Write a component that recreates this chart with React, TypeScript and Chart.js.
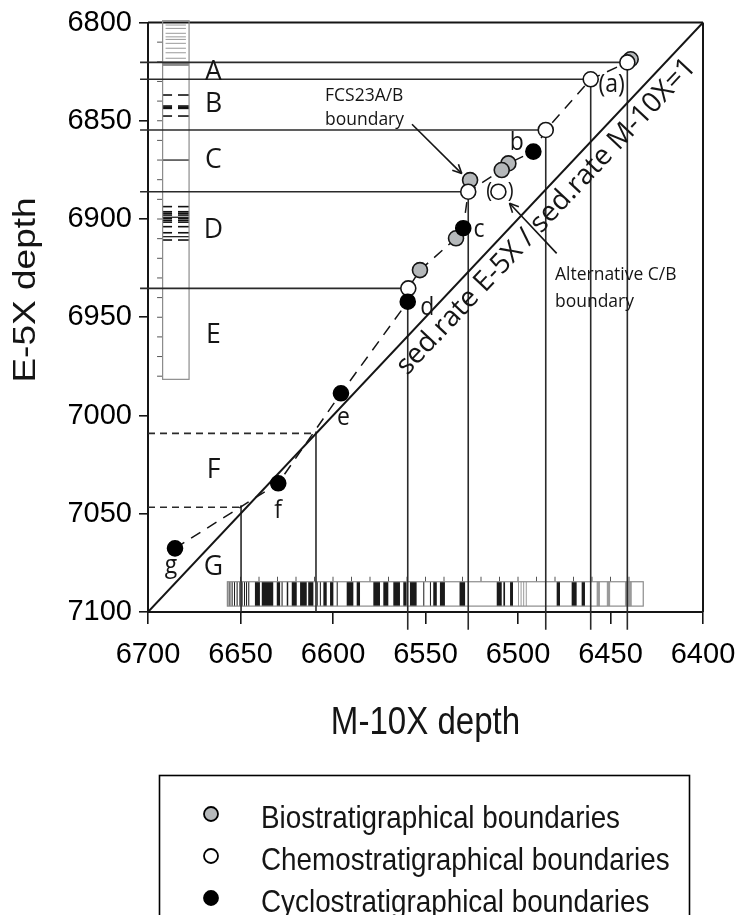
import React, { useEffect, useRef } from 'react';
import { Chart, registerables } from 'chart.js';

Chart.register(...registerables);

// ---------- axis ranges / ticks ----------
const M10X_MIN = 6400;
const M10X_MAX = 6700;
const E5X_MIN = 6800;
const E5X_MAX = 7100;
const xTickValues = [6700, 6650, 6600, 6550, 6500, 6450, 6400];
const yTickValues = [6800, 6850, 6900, 6950, 7000, 7050, 7100];

// ---------- boundary points (M-10X depth, E-5X depth) ----------
const bioM10X = [6439.1, 6505.2, 6508.8, 6525.9, 6533.5, 6553.0];
const bioE5X = [6818.7, 6871.7, 6875.1, 6880.2, 6909.8, 6926.0];

const chemoM10X = [6440.9, 6460.7, 6485.0, 6526.9, 6510.6, 6559.3];
const chemoE5X = [6820.3, 6828.9, 6854.7, 6886.1, 6886.1, 6935.3];

const cycloM10X = [6491.7, 6529.6, 6559.6, 6595.7, 6629.6, 6685.4];
const cycloE5X = [6865.7, 6904.7, 6942.1, 6988.7, 7034.5, 7067.6];

// dashed correlation line
const corrM10X = [6685.4, 6629.6, 6595.7, 6559.6, 6559.3, 6553.0, 6533.5, 6529.6, 6526.9, 6508.8, 6505.2, 6491.7, 6485.0, 6460.7, 6440.9];
const corrE5X = [7067.6, 7034.5, 6988.7, 6942.1, 6935.3, 6926.0, 6909.8, 6904.7, 6886.1, 6875.1, 6871.7, 6865.7, 6854.7, 6828.9, 6820.3];

// tie lines
const hTieE5X = [6820.3, 6828.9, 6854.7, 6886.1, 6935.3];
const hTieM10X = [6440.9, 6460.7, 6485.0, 6526.9, 6559.3];
const vTieM10X = [6440.9, 6460.7, 6485.0, 6526.9, 6559.6];
const vTieE5X = [6820.3, 6828.9, 6854.7, 6886.1, 6942.1];
const zoneFGBoundE5X = [7009.1, 7046.7];
const zoneFGBoundM10X = [6609.2, 6649.7];

// zone letters
const zoneLetters = ['A', 'B', 'C', 'D', 'E', 'F', 'G'];
const zoneBaseE5X = [6829.3, 6845.4, 6874.2, 6909.8, 6963.3, 7032.0, 7081.2];
const zoneM10X = 6664.6;

// point letters
const pointLetters = ['(a)', 'b', 'c', 'd', 'e', 'f', 'g'];
const pointLetterM10X = [6449.4, 6500.7, 6521.1, 6549.0, 6594.4, 6629.6, 6687.6];
const pointLetterE5X = [6835.2, 6864.9, 6909.0, 6948.9, 7004.8, 7052.3, 7080.3];

// E-5X core log column
const colM10X = [6692.1, 6677.8];
const colE5X = [6799.1, 6981.6];
const colLeftSeg = [6691.9, 6687.0];
const colRightSeg = [6683.8, 6677.8];
const colGreyLines = [6801.3, 6803.0, 6805.5, 6807.3, 6808.6, 6810.6, 6813.1, 6815.4, 6818.2];
const colGreyBand = [6819.9, 6822.1];
const colDashes = [6836.9, 6842.5, 6843.1, 6843.7, 6847.6, 6893.7, 6896.3, 6897.1, 6898.0, 6899.6, 6900.6, 6901.6, 6903.9, 6907.0, 6910.7];
const colFullLines = [6870.0, 6899.1, 6909.0];
const colTicks = [6810, 6820, 6830, 6840, 6850, 6860, 6870, 6880, 6890, 6900, 6910, 6920, 6930, 6940, 6950, 6960, 6970, 6980];

// M-10X core log bar
const barM10X = [6657.1, 6432.3];
const barE5X = [7084.6, 7097.0];
const barBlack = [
  [6657.1, 6656.7], [6656.0, 6655.6], [6654.8, 6654.4], [6653.5, 6653.1], [6652.1, 6651.7],
  [6650.6, 6650.2], [6649.4, 6649.0], [6648.1, 6647.7], [6647.0, 6646.6], [6645.8, 6645.4],
  [6642.2, 6639.5], [6638.5, 6632.3], [6630.4, 6628.6], [6627.8, 6627.4], [6625.0, 6624.2],
  [6622.3, 6619.6], [6617.8, 6614.2], [6613.4, 6610.6], [6608.8, 6608.4], [6607.1, 6606.7],
  [6605.2, 6603.4], [6601.6, 6599.8], [6598.0, 6597.6], [6592.6, 6589.0], [6587.2, 6585.4],
  [6578.2, 6574.6], [6572.8, 6570.1], [6567.4, 6563.8], [6562.0, 6560.2], [6558.4, 6554.8],
  [6551.2, 6550.8], [6547.6, 6547.2], [6545.8, 6543.9], [6542.2, 6539.5], [6531.6, 6528.6],
  [6511.5, 6508.8], [6507.9, 6507.0], [6504.3, 6502.7], [6479.1, 6477.3], [6471.0, 6468.3],
  [6465.6, 6463.8],
];
const barGrey = [
  [6500.0, 6499.5], [6498.6, 6498.1], [6497.2, 6496.7], [6495.8, 6495.3],
  [6457.5, 6455.7], [6452.0, 6450.2], [6442.2, 6438.5],
];
const barTicks = [6650, 6640, 6630, 6620, 6610, 6600, 6590, 6580, 6570, 6560, 6550, 6540, 6530, 6520, 6510, 6500, 6490, 6480, 6470, 6460, 6450, 6440];

// annotations
const fcsNote = ['FCS23A/B', 'boundary'];
const fcsNoteM10X = 6604.3;
const fcsNoteE5X = [6839.8, 6852.3];
const fcsArrow = [[6557.3, 6851.8], [6530.4, 6876.9]];
const altNote = ['Alternative C/B', 'boundary'];
const altNoteM10X = 6480.0;
const altNoteE5X = [6931.0, 6944.6];
const altArrow = [[6479.1, 6917.5], [6504.6, 6892.0]];
const parenM10X = [6515.6, 6503.9];
const parenE5X = 6886.1;
const ratioText = 'sed.rate E-5X / sed.rate M-10X=1';

const legendLabels = ['Biostratigraphical boundaries', 'Chemostratigraphical boundaries', 'Cyclostratigraphical boundaries'];
const legendFills = ['#b5b8ba', '#ffffff', '#000000'];

const AX_FONT = "'Liberation Sans', Arial, Helvetica, sans-serif";
const NOTE_FONT = "'Open Sans', 'Noto Sans', sans-serif";
const INK = '#151515';

function seg(ctx: CanvasRenderingContext2D, x1: number, y1: number, x2: number, y2: number) {
  ctx.beginPath();
  ctx.moveTo(x1, y1);
  ctx.lineTo(x2, y2);
  ctx.stroke();
}

function txt(ctx: CanvasRenderingContext2D, s: string, x: number, y: number, font: string,
  align: CanvasTextAlign = 'center', baseline: CanvasTextBaseline = 'alphabetic', sx = 1) {
  ctx.save();
  ctx.translate(x, y);
  ctx.scale(sx, 1);
  ctx.font = font;
  ctx.textAlign = align;
  ctx.textBaseline = baseline;
  ctx.fillStyle = INK;
  ctx.fillText(s, 0, 0);
  ctx.restore();
}

function arrow(ctx: CanvasRenderingContext2D, x1: number, y1: number, x2: number, y2: number) {
  seg(ctx, x1, y1, x2, y2);
  const a = Math.atan2(y2 - y1, x2 - x1);
  const L = 10;
  const w = 0.45;
  seg(ctx, x2, y2, x2 - L * Math.cos(a - w), y2 - L * Math.sin(a - w));
  seg(ctx, x2, y2, x2 - L * Math.cos(a + w), y2 - L * Math.sin(a + w));
}

const decorPlugin = {
  id: 'decor',
  beforeDatasetsDraw(chart: any) {
    const ctx: CanvasRenderingContext2D = chart.ctx;
    const X = (v: number) => chart.scales.x.getPixelForValue(v);
    const Y = (v: number) => chart.scales.y.getPixelForValue(v);
    ctx.save();

    // frame (top and right)
    ctx.strokeStyle = INK;
    ctx.lineWidth = 2;
    seg(ctx, X(M10X_MAX), Y(E5X_MIN), X(M10X_MIN), Y(E5X_MIN));
    seg(ctx, X(M10X_MIN), Y(E5X_MIN), X(M10X_MIN), Y(E5X_MAX));

    // E-5X log column
    ctx.strokeStyle = '#9a9a9a';
    ctx.lineWidth = 1;
    for (const g of colGreyLines) seg(ctx, X(6690.5), Y(g), X(6679.5), Y(g));
    ctx.fillStyle = '#8a8a8a';
    ctx.fillRect(X(colM10X[0]), Y(colGreyBand[0]), X(colM10X[1]) - X(colM10X[0]), Y(colGreyBand[1]) - Y(colGreyBand[0]));
    ctx.strokeStyle = '#111';
    ctx.lineWidth = 1.6;
    for (const d of colDashes) {
      seg(ctx, X(colLeftSeg[0]), Y(d), X(colLeftSeg[1]), Y(d));
      seg(ctx, X(colRightSeg[0]), Y(d), X(colRightSeg[1]), Y(d));
    }
    ctx.lineWidth = 1.2;
    for (const d of colFullLines) seg(ctx, X(colM10X[0]), Y(d), X(colM10X[1]), Y(d));
    ctx.strokeStyle = '#555';
    ctx.lineWidth = 1;
    for (const t of colTicks) seg(ctx, X(6695.1), Y(t), X(6692.4), Y(t));
    ctx.strokeStyle = '#8c8c8c';
    ctx.lineWidth = 1.2;
    ctx.strokeRect(X(colM10X[0]), Y(colE5X[0]), X(colM10X[1]) - X(colM10X[0]), Y(colE5X[1]) - Y(colE5X[0]));

    // M-10X log bar
    const by0 = Y(barE5X[0]);
    const by1 = Y(barE5X[1]);
    ctx.fillStyle = '#1a1a1a';
    for (const [a, b] of barBlack) {
      const x0 = X(a);
      const w = Math.max(1, X(b) - x0);
      ctx.fillRect(x0, by0, w, by1 - by0);
    }
    ctx.fillStyle = '#9a9a9a';
    for (const [a, b] of barGrey) {
      const x0 = X(a);
      const w = Math.max(1, X(b) - x0);
      ctx.fillRect(x0, by0, w, by1 - by0);
    }
    ctx.strokeStyle = '#555';
    ctx.lineWidth = 1;
    for (const t of barTicks) seg(ctx, X(t), by0 - 5, X(t), by0);
    ctx.strokeStyle = '#8c8c8c';
    ctx.lineWidth = 1.2;
    ctx.strokeRect(X(barM10X[0]), by0, X(barM10X[1]) - X(barM10X[0]), by1 - by0);

    // horizontal tie lines
    ctx.strokeStyle = '#2a2a2a';
    ctx.lineWidth = 1.6;
    hTieE5X.forEach((e, i) => seg(ctx, X(6704.3), Y(e), X(hTieM10X[i]), Y(e)));
    // vertical tie lines
    vTieM10X.forEach((m, i) => seg(ctx, X(m), Y(vTieE5X[i]), X(m), Y(7109)));
    // F / G zone boundaries
    zoneFGBoundE5X.forEach((e, i) => {
      ctx.setLineDash([7, 5]);
      seg(ctx, X(M10X_MAX), Y(e), X(zoneFGBoundM10X[i]), Y(e));
      ctx.setLineDash([]);
      seg(ctx, X(zoneFGBoundM10X[i]), Y(e) - 2, X(zoneFGBoundM10X[i]), Y(E5X_MAX));
    });
    ctx.restore();
  },
  afterDatasetsDraw(chart: any) {
    const ctx: CanvasRenderingContext2D = chart.ctx;
    const X = (v: number) => chart.scales.x.getPixelForValue(v);
    const Y = (v: number) => chart.scales.y.getPixelForValue(v);
    ctx.save();

    // zone letters
    zoneLetters.forEach((s, i) => txt(ctx, s, X(zoneM10X), Y(zoneBaseE5X[i]), `28px ${NOTE_FONT}`, 'center', 'alphabetic', 0.95));
    // point letters
    pointLetters.forEach((s, i) => txt(ctx, s, X(pointLetterM10X[i]), Y(pointLetterE5X[i]), `25px ${NOTE_FONT}`, 'center', 'alphabetic', 0.92));
    // parentheses around alternative C/B point
    txt(ctx, '(', X(parenM10X[0]), Y(parenE5X), `22px ${NOTE_FONT}`, 'center', 'middle', 0.9);
    txt(ctx, ')', X(parenM10X[1]), Y(parenE5X), `22px ${NOTE_FONT}`, 'center', 'middle', 0.9);

    // notes
    fcsNote.forEach((s, i) => txt(ctx, s, X(fcsNoteM10X), Y(fcsNoteE5X[i]), `19px ${NOTE_FONT}`, 'left', 'alphabetic', 0.92));
    altNote.forEach((s, i) => txt(ctx, s, X(altNoteM10X), Y(altNoteE5X[i]), `19px ${NOTE_FONT}`, 'left', 'alphabetic', 0.92));
    ctx.strokeStyle = INK;
    ctx.lineWidth = 1.6;
    arrow(ctx, X(fcsArrow[0][0]), Y(fcsArrow[0][1]), X(fcsArrow[1][0]), Y(fcsArrow[1][1]));
    arrow(ctx, X(altArrow[0][0]), Y(altArrow[0][1]), X(altArrow[1][0]), Y(altArrow[1][1]));

    // 1:1 ratio label along diagonal
    const x0 = X(M10X_MAX), y0 = Y(E5X_MAX), x1 = X(M10X_MIN), y1 = Y(E5X_MIN);
    const len = Math.hypot(x1 - x0, y1 - y0);
    const ux = (x1 - x0) / len, uy = (y1 - y0) / len;
    const nx = -uy, ny = ux; // points down-right
    const along = 561, off = 19;
    const cx = x0 + ux * along + nx * off;
    const cy = y0 + uy * along + ny * off;
    ctx.font = `100px ${NOTE_FONT}`;
    const w100 = ctx.measureText(ratioText).width;
    const fs = (100 * 423) / w100;
    ctx.save();
    ctx.translate(cx, cy);
    ctx.rotate(Math.atan2(y1 - y0, x1 - x0));
    ctx.font = `${fs.toFixed(1)}px ${NOTE_FONT}`;
    ctx.textAlign = 'center';
    ctx.textBaseline = 'middle';
    ctx.fillStyle = INK;
    ctx.fillText(ratioText, 0, 0);
    ctx.restore();
    ctx.restore();
  },
  afterDraw(chart: any) {
    const ctx: CanvasRenderingContext2D = chart.ctx;
    const area = chart.chartArea;
    ctx.save();
    // axis titles
    txt(ctx, 'M-10X depth', (area.left + area.right) / 2, 734, `38px ${AX_FONT}`, 'center', 'alphabetic', 0.87);
    ctx.save();
    ctx.translate(35, 290);
    ctx.scale(0.87, 1);
    ctx.rotate(-Math.PI / 2);
    ctx.font = `37px ${AX_FONT}`;
    ctx.textAlign = 'center';
    ctx.textBaseline = 'alphabetic';
    ctx.fillStyle = INK;
    ctx.fillText('E-5X depth', 0, 0);
    ctx.restore();

    // legend box
    ctx.strokeStyle = '#000';
    ctx.lineWidth = 1.6;
    ctx.strokeRect(159.5, 775.5, 530, 200);
    const rowsY = [814, 856, 898];
    legendLabels.forEach((lab, i) => {
      ctx.beginPath();
      ctx.arc(211, rowsY[i], 7, 0, Math.PI * 2);
      ctx.fillStyle = legendFills[i];
      ctx.fill();
      ctx.strokeStyle = '#000';
      ctx.lineWidth = 1.8;
      ctx.stroke();
      txt(ctx, lab, 261, rowsY[i] + 14, `32px ${AX_FONT}`, 'left', 'alphabetic', 0.87);
    });
    ctx.restore();
  },
};

const toPts = (xs: number[], ys: number[]) => xs.map((x, i) => ({ x, y: ys[i] }));

export default function App() {
  const ref = useRef<HTMLCanvasElement>(null);
  useEffect(() => {
    document.body.style.margin = '0';
    const canvas = ref.current;
    if (!canvas) return;
    const tickFont = { family: AX_FONT, size: 29 };
    const chart = new Chart(canvas, {
      type: 'scatter',
      data: {
        datasets: [
          {
            type: 'line',
            label: '1:1',
            data: [{ x: M10X_MAX, y: E5X_MAX }, { x: M10X_MIN, y: E5X_MIN }],
            borderColor: INK,
            borderWidth: 2,
            pointRadius: 0,
            fill: false,
            order: 5,
          } as any,
          {
            type: 'line',
            label: 'correlation',
            data: toPts(corrM10X, corrE5X),
            borderColor: INK,
            borderWidth: 1.5,
            borderDash: [11, 8],
            pointRadius: 0,
            tension: 0,
            fill: false,
            order: 4,
          } as any,
          {
            label: 'Biostratigraphical boundaries',
            data: toPts(bioM10X, bioE5X),
            backgroundColor: '#b5b8ba',
            borderColor: INK,
            borderWidth: 1.6,
            pointRadius: 7.5,
            order: 3,
          },
          {
            label: 'Chemostratigraphical boundaries',
            data: toPts(chemoM10X, chemoE5X),
            backgroundColor: '#ffffff',
            borderColor: INK,
            borderWidth: 1.6,
            pointRadius: 7.5,
            order: 2,
          },
          {
            label: 'Cyclostratigraphical boundaries',
            data: toPts(cycloM10X, cycloE5X),
            backgroundColor: '#000000',
            borderColor: '#000000',
            borderWidth: 1.6,
            pointRadius: 7.5,
            order: 1,
          },
        ],
      },
      options: {
        animation: false,
        responsive: false,
        events: [],
        layout: { padding: { left: 0, top: 22.5, right: 35, bottom: 0 } },
        plugins: { legend: { display: false }, tooltip: { enabled: false }, title: { display: false } },
        scales: {
          x: {
            type: 'linear',
            position: 'bottom',
            reverse: true,
            min: M10X_MIN,
            max: M10X_MAX,
            afterBuildTicks: (s: any) => { s.ticks = xTickValues.map((v) => ({ value: v })); },
            ticks: { font: tickFont, color: '#000', padding: 14, maxRotation: 0, autoSkip: false, callback: (v: any) => String(v) },
            grid: { drawOnChartArea: false, drawTicks: true, tickLength: 12, color: INK, lineWidth: 1.6 },
            border: { display: true, color: INK, width: 2 },
            afterFit: (s: any) => { s.height = 303; s.paddingLeft = 0; s.paddingRight = 0; },
          },
          y: {
            type: 'linear',
            reverse: true,
            min: E5X_MIN,
            max: E5X_MAX,
            afterBuildTicks: (s: any) => { s.ticks = yTickValues.map((v) => ({ value: v })); },
            ticks: { font: tickFont, color: '#000', padding: 7, autoSkip: false, callback: (v: any) => String(v) },
            grid: { drawOnChartArea: false, drawTicks: true, tickLength: 9, color: INK, lineWidth: 1.6 },
            border: { display: true, color: INK, width: 2 },
            afterFit: (s: any) => { s.width = 148; s.paddingTop = 0; s.paddingBottom = 0; },
          },
        },
      },
      plugins: [decorPlugin],
    } as any);
    return () => chart.destroy();
  }, []);
  return <canvas ref={ref} width={738} height={915} style={{ display: 'block', width: 738, height: 915 }} />;
}
